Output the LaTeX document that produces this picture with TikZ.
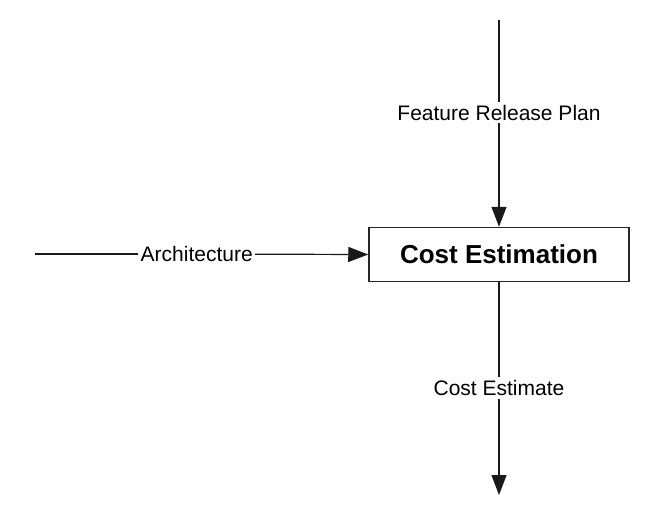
\documentclass[tikz,border=0pt]{standalone}
\usepackage{fontspec}
\setmainfont{Liberation Sans}
\usetikzlibrary{arrows.meta}
\begin{document}
\begin{tikzpicture}[x=1pt,y=-1pt,
  conn/.style={draw=black!90,line width=1.2pt},
  arr/.style={conn,-{Triangle[length=20pt,width=15pt]}},
  flowlabel/.style={fill=white,inner xsep=2pt,inner ysep=3pt,font=\fontsize{21}{24}\selectfont},
  procbox/.style={draw=black!85,line width=1.5pt,minimum width=260pt,minimum height=54pt,inner sep=0pt,font=\bfseries\fontsize{26}{30}\selectfont}]
\useasboundingbox (0,0) rectangle (671,523);
\node[procbox] (ce) at (499,254.5) {Cost Estimation};
\coordinate (topend) at (499,20);
\coordinate (leftend) at (35,254);
\coordinate (botend) at (499,495);
\node[flowlabel] (frp) at (499,112.5) {Feature Release Plan};
\node[flowlabel] (arch) at (196.7,254) {Architecture};
\node[flowlabel] (cest) at (499,388) {Cost Estimate};
\draw[conn] (topend) -- (frp);
\draw[arr] (frp) -- (ce.north);
\draw[conn] (leftend) -- (arch);
\draw[arr] (arch) -- (ce.west);
\draw[conn] (ce.south) -- (cest);
\draw[arr] (cest) -- (botend);
\end{tikzpicture}
\end{document}
